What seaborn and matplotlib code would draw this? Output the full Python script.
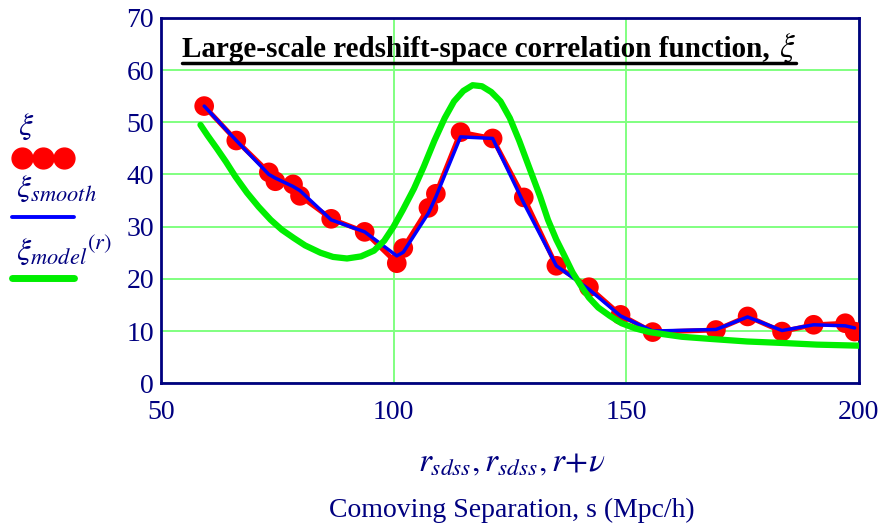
import numpy as np
import pandas as pd
import seaborn as sns
import matplotlib.pyplot as plt
from matplotlib.lines import Line2D

# measured correlation function (red points)
r_sdss = [59.3, 66.2, 73.2, 74.6, 78.4, 79.9, 86.6, 93.8, 100.7, 102.1, 107.5, 109.1, 114.4,
          121.3, 128.0, 135.0, 142.0, 148.8, 155.7, 169.3, 176.1, 183.5, 190.3, 197.1, 199.1]
xi = [53.1, 46.5, 40.4, 38.7, 38.1, 35.9, 31.5, 29.0, 23.0, 25.9, 33.6, 36.3, 48.1,
      46.9, 35.6, 22.5, 18.4, 13.1, 9.8, 10.2, 12.8, 9.9, 11.2, 11.5, 9.9]
xi_smooth = [53.1, 46.5, 40.0, 39.3, 37.7, 36.9, 31.3, 29.0, 24.4, 25.1, 32.6, 35.7, 47.2,
             46.9, 34.5, 22.5, 18.0, 12.9, 10.0, 10.3, 12.7, 10.1, 11.2, 11.0, 10.6]

# model curve
r_model = [58.5, 60, 62, 64, 66, 68.5, 71, 73.6, 76, 78.6, 81, 84.3, 87, 90, 93, 95.8, 98,
           100, 102, 104.4, 106.5, 108.8, 111, 113, 115, 117, 119, 121, 123, 125, 127, 129.6,
           131.5, 133.2, 135, 136.8, 138.5, 140.4, 142, 144, 146.5, 149, 152, 155, 158, 162,
           168, 176, 184, 191, 200]
xi_model = [49.5, 47.5, 45.0, 42.4, 39.6, 36.5, 33.8, 31.3, 29.4, 27.8, 26.4, 25.0, 24.2,
            23.9, 24.3, 25.4, 27.3, 30.0, 33.2, 37.3, 41.5, 46.5, 50.8, 54.0, 56.0, 57.1,
            56.9, 55.8, 54.0, 50.8, 46.5, 40.3, 35.8, 31.3, 27.5, 24.3, 21.2, 18.5, 16.4,
            14.5, 12.9, 11.5, 10.5, 9.8, 9.4, 8.9, 8.5, 8.0, 7.7, 7.4, 7.2]

x_ticks = [50, 100, 150, 200]
y_ticks = [0, 10, 20, 30, 40, 50, 60, 70]

navy = "#000080"
red = "#ff0000"
blue = "#0000ff"
green = "#00ee00"

sns.set_style("white")
plt.rcParams["font.family"] = ["Liberation Serif", "DejaVu Serif"]
plt.rcParams["mathtext.fontset"] = "stix"

fig = plt.figure(figsize=(8.89, 5.25), dpi=100)
ax = fig.add_axes([0.181, 0.270, 0.785, 0.696])

data = pd.DataFrame({"r": r_sdss, "xi": xi, "xi_smooth": xi_smooth})
model = pd.DataFrame({"r": r_model, "xi": xi_model})

sns.lineplot(data=data, x="r", y="xi", color=red, linewidth=3.5, sort=False,
             estimator=None, ax=ax, zorder=3)
sns.scatterplot(data=data, x="r", y="xi", color=red, s=200, edgecolor="none",
                ax=ax, zorder=3)
sns.lineplot(data=data, x="r", y="xi_smooth", color=blue, linewidth=2.5, sort=False,
             estimator=None, ax=ax, zorder=4)
sns.lineplot(data=model, x="r", y="xi", color=green, linewidth=4.5, sort=False,
             estimator=None, ax=ax, zorder=5, solid_capstyle="round")

ax.set_xlim(50, 200)
ax.set_ylim(0, 70)
ax.set_xticks(x_ticks)
ax.set_yticks(y_ticks)
ax.grid(True, color="#80ff80", linewidth=1.4)
ax.tick_params(length=0, labelsize=20, colors=navy)
ax.tick_params(axis="y", pad=5)
ax.tick_params(axis="x", pad=12)
for s in ax.spines.values():
    s.set_color(navy)
    s.set_linewidth(2)
ax.set_xlabel("")
ax.set_ylabel("")

# title with underline
title = ax.text(0.030, 0.892, "Large-scale redshift-space correlation function, ",
                transform=ax.transAxes, fontsize=21, fontweight="bold", color="black",
                va="baseline", ha="left", zorder=6)
fig.canvas.draw()
bb = title.get_window_extent()
base_y = title.get_transform().transform((0.030, 0.892))[1]
xi_sym = fig.text(0, 0, r"$\xi$", fontsize=24, color="black", va="baseline",
                  ha="left", transform=None)
xi_sym.set_position((bb.x1 + 2, base_y))
fig.canvas.draw()
bb2 = xi_sym.get_window_extent()
y_line = base_y - 6
fig.add_artist(Line2D([bb.x0, bb2.x1], [y_line, y_line], color="black", linewidth=2.5,
                      transform=None))

# x-axis labels
fig.text(0.576, 0.118, r"$r_{sdss},r_{sdss},r\!+\!\nu$", fontsize=24,
         color=navy, ha="center", va="center")
fig.text(0.576, 0.027, "Comoving Separation, s (Mpc/h)", fontsize=20, color=navy,
         ha="center", va="center")

# legend on the left
fig.text(0.020, 0.758, r"$\xi$", fontsize=23, color=navy, ha="left", va="center")
fig.add_artist(Line2D([0.025, 0.048, 0.072], [0.700, 0.700, 0.700], color=red,
                      marker="o", markersize=15, linewidth=3, transform=fig.transFigure))
fig.text(0.018, 0.640, r"$\xi_{smooth}$", fontsize=23, color=navy, ha="left", va="center")
fig.add_artist(Line2D([0.014, 0.083], [0.587, 0.587], color=blue, linewidth=2.8,
                      transform=fig.transFigure))
fig.text(0.018, 0.525, r"$\xi_{model}{}^{(r)}$", fontsize=23, color=navy, ha="left",
         va="center")
fig.add_artist(Line2D([0.014, 0.083], [0.471, 0.471], color=green, linewidth=5,
                      solid_capstyle="round", transform=fig.transFigure))

fig.savefig("out.png", dpi=100)
